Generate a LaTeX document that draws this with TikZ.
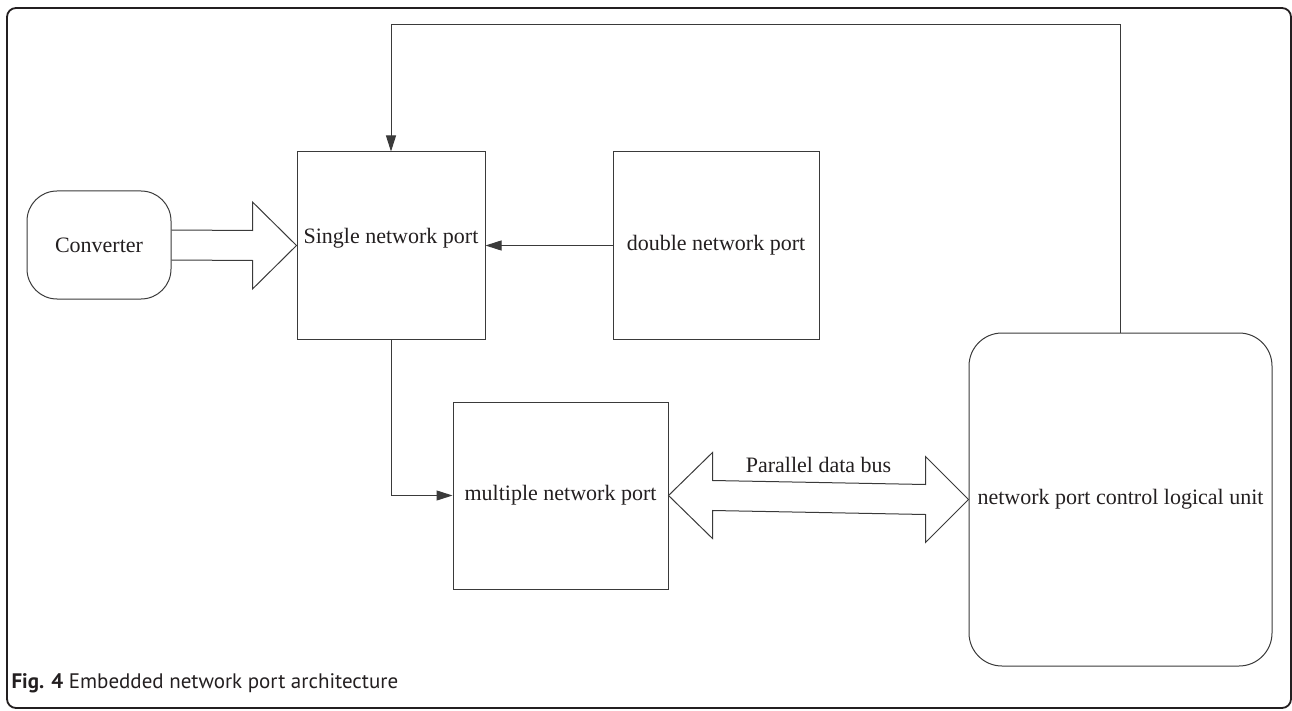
\documentclass[tikz,border=0pt]{standalone}
\usepackage{fontspec}
\setmainfont{Liberation Serif}
\newfontfamily\captionfont{PT Sans}
\usepackage{xcolor}
\usepackage{tikz}
\usetikzlibrary{arrows.meta, positioning, calc}
\definecolor{inkgray}{HTML}{231F20}
\definecolor{linegray}{HTML}{3A3A3A}

\begin{document}
\begin{tikzpicture}[
        x=1pt, y=-1pt,
        font=\fontsize{22}{26}\selectfont,
        text=inkgray,
        portbox/.style={
            rectangle,
            draw=linegray,
            line width=1pt,
            minimum height=187pt,
            inner sep=0pt
        },
        softbox/.style={
            portbox,
            rounded corners=30pt
        },
        arrow/.style={
            -{Triangle[length=16pt, width=10pt]},
            line width=1pt,
            linegray
        },
        fatarrow/.style={
            line width=1pt,
            linegray,
            line join=miter
        }
    ]
        \useasboundingbox (0,0) rectangle (1292,711);
        % Frame
        \draw[inkgray, line width=1.8pt, rounded corners=9pt] (7,8) rectangle (1291,708);

        % Nodes
        \node[softbox, minimum width=144pt, minimum height=108pt] (conv) at (99,245) {Converter};
        \node[portbox, minimum width=188pt, text depth=20pt] (single) at (391,245.5) {Single network port};
        \node[portbox, minimum width=206pt, right=127pt of single] (double) {double network port};
        \node[portbox, minimum width=215pt] (multi) at (560.5,495.5) {multiple network port};
        \node[softbox, rounded corners=33pt, minimum width=303pt, minimum height=333pt] (logic) at (1120.5,499.5) {network port control logical unit};
        \node[font=\captionfont\fontsize{21}{24}\selectfont, anchor=base west] (caption) at (8,688) {\textbf{Fig. 4} Embedded network port architecture};

        % Edges
        \draw[fatarrow] ($(conv.east)+(0,-15)$) -- ($(single.west)+(-44,-15)$) -- ($(single.west)+(-44,-43.5)$) -- (single.west) -- ($(single.west)+(-44,43.5)$) -- ($(single.west)+(-44,15)$) -- ($(conv.east)+(0,15)$);
        \draw[arrow] (double) -- (single);
        \draw[arrow] (single.south) |- (multi.west);
        \draw[arrow] (logic.north) -- ++(0,-308) -| (single.north);
        \draw[fatarrow] (multi.east) -- ($(multi.east)+(44,-43)$) -- ($(multi.east)+(44,-15)$) -- ($(logic.west)+(-43,-15)$) -- ($(logic.west)+(-43,-43)$) -- (logic.west) -- ($(logic.west)+(-43,43)$) -- ($(logic.west)+(-43,15)$) -- ($(multi.east)+(44,15)$) -- ($(multi.east)+(44,43)$) -- cycle;
        \node (bus) at ($(multi.east)!0.5!(logic.west)+(0,-33)$) {Parallel data bus};
    \end{tikzpicture}
\end{document}
